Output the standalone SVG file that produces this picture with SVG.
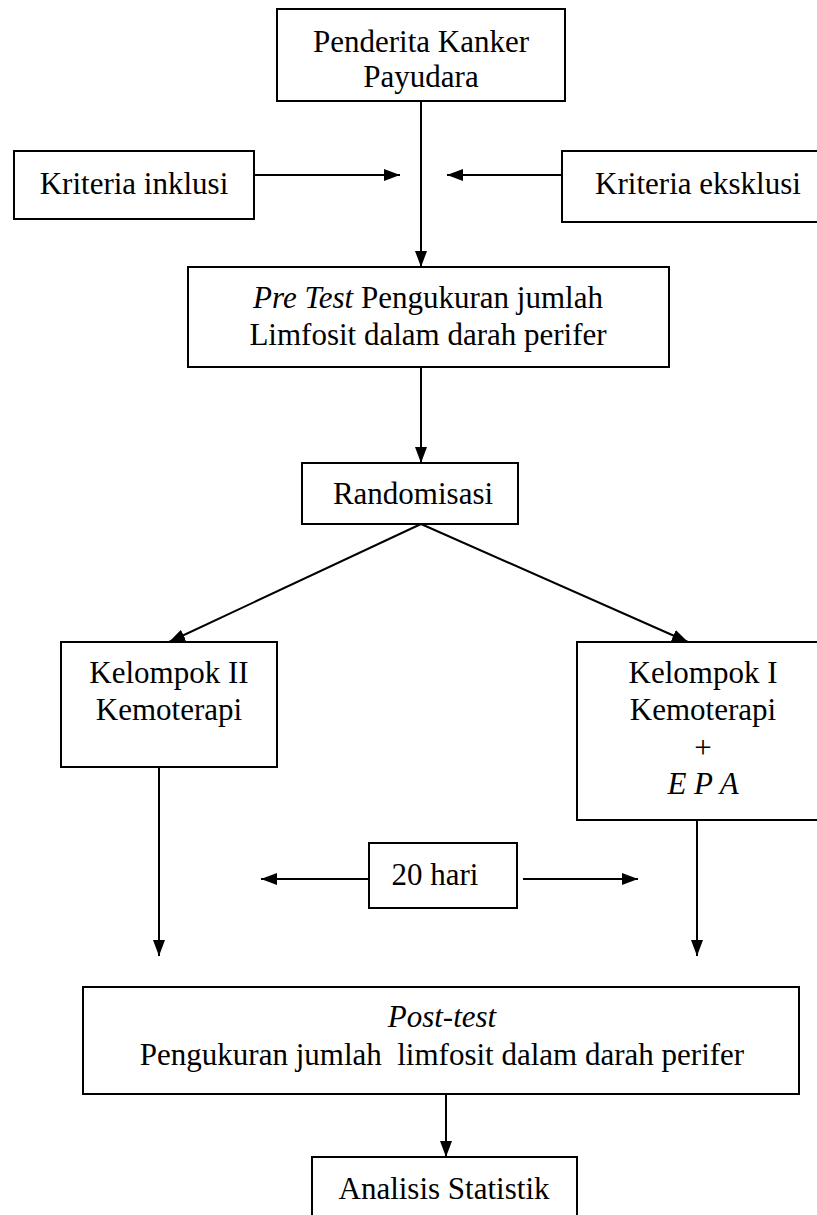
<svg xmlns="http://www.w3.org/2000/svg" width="817" height="1215" viewBox="0 0 817 1215">
<style>
.box{fill:#fff;stroke:#000;stroke-width:2}
.t{font-family:"Liberation Serif","Times New Roman",serif;font-size:31px;fill:#000;text-anchor:middle}
.i{font-style:italic}
.c{fill:none;stroke:#000;stroke-width:2}
</style>
<defs>
<marker id="ah" viewBox="0 0 16 12" refX="16" refY="6" markerWidth="16" markerHeight="12" markerUnits="userSpaceOnUse" orient="auto">
<path d="M0,0 L16,6 L0,12 Z" fill="#000"/>
</marker>
</defs>
<rect width="817" height="1215" fill="#fff"/>
<g id="connectors">
<line class="c" x1="421" y1="101" x2="421" y2="267" marker-end="url(#ah)"/>
<line class="c" x1="254" y1="175" x2="400" y2="175" marker-end="url(#ah)"/>
<line class="c" x1="562" y1="175" x2="447" y2="175" marker-end="url(#ah)"/>
<line class="c" x1="421" y1="367" x2="421" y2="463" marker-end="url(#ah)"/>
<line class="c" x1="421" y1="524" x2="169" y2="642" marker-end="url(#ah)"/>
<line class="c" x1="421" y1="524" x2="688" y2="642" marker-end="url(#ah)"/>
<line class="c" x1="159" y1="767" x2="159" y2="956" marker-end="url(#ah)"/>
<line class="c" x1="697" y1="820" x2="697" y2="956" marker-end="url(#ah)"/>
<line class="c" x1="369" y1="879" x2="261" y2="879" marker-end="url(#ah)"/>
<line class="c" x1="523" y1="879" x2="638" y2="879" marker-end="url(#ah)"/>
<line class="c" x1="446" y1="1094" x2="446" y2="1157" marker-end="url(#ah)"/>
</g>
<g id="penderita">
<rect class="box" x="277" y="9" width="288" height="92"/>
<text class="t" x="421" y="52">Penderita Kanker</text>
<text class="t" x="421" y="87">Payudara</text>
</g>
<g id="inklusi">
<rect class="box" x="14" y="151" width="240" height="68"/>
<text class="t" x="134" y="194">Kriteria inklusi</text>
</g>
<g id="eksklusi">
<rect class="box" x="562" y="151" width="260" height="71"/>
<text class="t" x="698" y="194">Kriteria eksklusi</text>
</g>
<g id="pretest">
<rect class="box" x="188" y="267" width="481" height="100"/>
<text class="t" x="428" y="308"><tspan class="i">Pre Test</tspan> Pengukuran jumlah</text>
<text class="t" x="428" y="345">Limfosit dalam darah perifer</text>
</g>
<g id="randomisasi">
<rect class="box" x="302" y="463" width="216" height="61"/>
<text class="t" x="413" y="504">Randomisasi</text>
</g>
<g id="kelompok2">
<rect class="box" x="61" y="642" width="216" height="125"/>
<text class="t" x="169" y="683">Kelompok II</text>
<text class="t" x="169" y="720">Kemoterapi</text>
</g>
<g id="kelompok1">
<rect class="box" x="577" y="642" width="245" height="178"/>
<text class="t" x="703" y="683">Kelompok I</text>
<text class="t" x="703" y="720">Kemoterapi</text>
<text class="t" x="703" y="758">+</text>
<text class="t i" x="703" y="794">E P A</text>
</g>
<g id="hari">
<rect class="box" x="369" y="843" width="148" height="65"/>
<text class="t" x="435" y="885">20 hari</text>
</g>
<g id="posttest">
<rect class="box" x="83" y="987" width="716" height="107"/>
<text class="t i" x="442" y="1027">Post-test</text>
<text class="t" x="442" y="1065" xml:space="preserve">Pengukuran jumlah  limfosit dalam darah perifer</text>
</g>
<g id="analisis">
<rect class="box" x="312" y="1157" width="265" height="70"/>
<text class="t" x="444" y="1199">Analisis Statistik</text>
</g>
</svg>
